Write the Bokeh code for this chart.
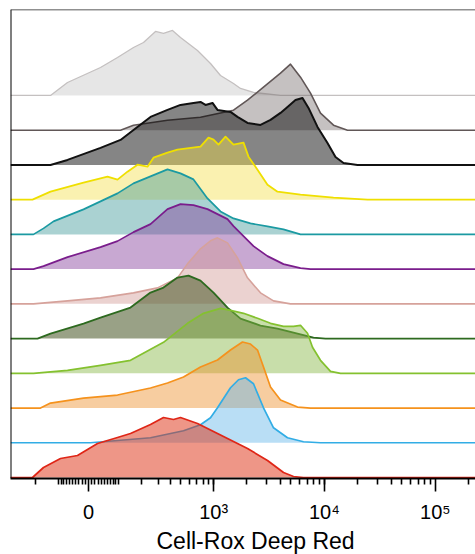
import numpy as np
from bokeh.plotting import figure
from bokeh.models import Range1d, FixedTicker, CustomJSTickFormatter, Span, Title
from bokeh.embed import file_html
from bokeh.resources import INLINE

# ---------------- data (x in display channels of the biexponential axis, y = normalised count) -------------
light_gray_x = [0, 40, 57, 90, 107, 123, 133, 145, 153, 162, 170, 187, 200, 210, 223, 230, 243, 270, 465]
light_gray_h = [0, 0, 13, 28, 38, 48, 53, 64, 62, 65, 58, 45, 32, 20, 12, 7, 3, 0, 0]

gray_x = [0, 110, 123, 157, 190, 223, 237, 253, 270, 280, 290, 300, 310, 323, 337, 465]
gray_h = [0, 0, 5, 10, 13, 20, 30, 43, 57, 66, 53, 37, 17, 5, 0, 0]

dark_x = [0, 40, 57, 90, 110, 123, 140, 157, 170, 183, 190, 195, 202, 207, 220, 227, 237, 250, 260, 270,
          277, 285, 292, 298, 307, 317, 325, 333, 347, 465]
dark_h = [0, 0, 5, 17, 25, 35, 48, 55, 60, 62, 63, 60, 62, 55, 53, 48, 42, 40, 45, 52,
          58, 65, 67, 57, 38, 22, 8, 2, 0, 0]

yellow_x = [0, 22, 40, 73, 97, 107, 117, 127, 137, 143, 157, 167, 190, 198, 203, 208, 215, 223, 233, 238,
            247, 257, 267, 290, 323, 357, 465]
yellow_h = [0, 0, 8, 17, 23, 20, 28, 35, 33, 42, 47, 50, 53, 62, 60, 55, 63, 55, 57, 43,
            30, 15, 8, 5, 2, 0, 0]

teal_x = [0, 23, 33, 43, 73, 90, 107, 123, 140, 157, 170, 183, 197, 210, 223, 240, 257, 273, 290, 465]
teal_h = [0, 0, 6, 13, 25, 33, 41, 51, 58, 65, 61, 55, 36, 23, 16, 11, 8, 5, 0, 0]

purple_x = [0, 23, 33, 57, 90, 107, 123, 140, 157, 170, 183, 197, 217, 223, 243, 257, 273, 290, 300, 465]
purple_h = [0, 0, 3, 12, 22, 28, 37, 45, 60, 65, 64, 60, 50, 43, 23, 13, 5, 1, 0, 0]

pink_x = [0, 23, 57, 90, 123, 147, 167, 177, 190, 200, 207, 217, 227, 237, 250, 263, 280, 465]
pink_h = [0, 0, 3, 6, 11, 16, 26, 40, 55, 63, 66, 61, 46, 26, 11, 3, 0, 0]

dkgreen_x = [0, 27, 40, 73, 90, 120, 140, 153, 167, 178, 190, 203, 217, 230, 250, 267, 283, 303, 315, 465]
dkgreen_h = [0, 0, 5, 15, 21, 31, 46, 51, 61, 63, 58, 46, 31, 20, 13, 10, 6, 1, 0, 0]

ygreen_x = [0, 23, 57, 90, 120, 153, 177, 193, 210, 220, 233, 247, 260, 273, 283, 290, 297, 302, 310, 320, 330, 465]
ygreen_h = [0, 0, 3, 8, 13, 31, 50, 60, 65, 63, 60, 55, 50, 47, 47, 48, 40, 26, 13, 2, 0, 0]

orange_x = [0, 30, 40, 73, 107, 140, 157, 173, 190, 207, 220, 232, 240, 247, 253, 260, 270, 287, 300, 465]
orange_h = [0, 0, 5, 10, 13, 20, 25, 31, 41, 48, 58, 66, 64, 58, 41, 21, 8, 1, 0, 0]

blue_x = [0, 80, 140, 173, 190, 200, 207, 220, 228, 235, 243, 253, 263, 277, 293, 310, 465]
blue_h = [0, 0, 5, 12, 18, 25, 35, 55, 63, 65, 59, 35, 15, 5, 1, 0, 0]

red_x = [0, 22, 33, 50, 67, 87, 107, 120, 140, 153, 163, 170, 187, 207, 227, 237, 257, 273, 283, 293, 465]
red_h = [0, 0, 10, 19, 22, 34, 40, 44, 53, 60, 58, 60, 54, 44, 34, 29, 17, 5, 1, 0, 0]

# order: top row first (drawn first), bottom row last
series = [
    (light_gray_x, light_gray_h, "#c4c0c0", "#c8c8c8", 0.45, 1.3),
    (gray_x, gray_h, "#615757", "#6e6464", 0.40, 1.6),
    (dark_x, dark_h, "#111111", "#000000", 0.48, 2.0),
    (yellow_x, yellow_h, "#efdf00", "#f4de43", 0.42, 1.8),
    (teal_x, teal_h, "#1b9aa2", "#439b9b", 0.45, 1.7),
    (purple_x, purple_h, "#7a1d8c", "#853e9b", 0.45, 1.7),
    (pink_x, pink_h, "#d6a29b", "#d39b97", 0.45, 1.6),
    (dkgreen_x, dkgreen_h, "#2d6a1f", "#505d2f", 0.58, 1.8),
    (ygreen_x, ygreen_h, "#84c12f", "#85b643", 0.45, 1.7),
    (orange_x, orange_h, "#f5921d", "#ee902c", 0.45, 1.7),
    (blue_x, blue_h, "#32ade5", "#64b6e9", 0.45, 1.7),
    (red_x, red_h, "#df2617", "#dd2d0f", 0.50, 1.7),
]
ROW_OFFSET = 34.73

# axis: biexponential display -> channel
major_vals = [0, 1e3, 1e4, 1e5]
major_labels = ["0", "10\u00b3", "10\u2074", "10\u2075"]
minor_vals = ([-200, -100] + [-v for v in range(10, 100, 10)] + list(range(10, 100, 10)) +
              list(range(100, 1000, 100)) + list(range(1000, 10000, 1000)) +
              list(range(10000, 100000, 10000)) + [200000])
AX_ZERO, AX_SCALE, AX_WIDTH = 78.0, 48.2, 150.0
X_END = 465


def to_channel(v):
    return AX_ZERO + AX_SCALE * np.arcsinh(np.asarray(v, dtype=float) / AX_WIDTH)


major_pos = [round(float(t), 4) for t in to_channel(major_vals)]
minor_pos = [round(float(t), 4) for t in to_channel(minor_vals) if 0 <= t <= X_END]

p = figure(width=475, height=554, output_backend="svg", toolbar_location=None,
           x_range=Range1d(0, X_END), y_range=Range1d(-1, 468),
           min_border_left=10, min_border_right=0, min_border_top=9, min_border_bottom=76)
p.yaxis.visible = False
p.grid.visible = False
p.outline_line_color = None
p.background_fill_color = "white"

n = len(series)
for i, (xs, hs, lc, fc, fa, lw) in enumerate(series):
    k = n - 1 - i
    base = k * ROW_OFFSET
    y2 = [base + h for h in hs]
    p.varea(x=xs, y1=[base] * len(xs), y2=y2, fill_color=fc, fill_alpha=fa)
    p.line(x=xs, y=y2, line_color=lc, line_width=lw, line_join="round")

ax = p.xaxis[0]
ax.ticker = FixedTicker(ticks=major_pos, minor_ticks=minor_pos)
ax.formatter = CustomJSTickFormatter(args=dict(pos=major_pos, labels=major_labels), code="""
for (let i = 0; i < pos.length; i++) { if (Math.abs(tick - pos[i]) < 0.01) return labels[i]; }
return "";
""")
ax.axis_line_color = "black"
ax.axis_line_width = 2
ax.major_tick_line_color = "black"
ax.major_tick_line_width = 1.6
ax.major_tick_out = 13
ax.major_tick_in = 0
ax.minor_tick_line_color = "black"
ax.minor_tick_line_width = 1.6
ax.minor_tick_out = 6
ax.minor_tick_in = 0
ax.major_label_text_font = "Liberation Sans"
ax.major_label_text_font_size = "20px"
ax.major_label_text_color = "black"
ax.major_label_standoff = 9

p.add_layout(Span(location=0, dimension="height", line_color="black", line_width=2))
p.add_layout(Span(location=468, dimension="width", line_color="#222222", line_width=1.5))

p.add_layout(Title(text="Cell-Rox Deep Red", align="left", offset=146, standoff=0,
                   text_font="Liberation Sans", text_font_size="23px", text_font_style="normal",
                   text_color="black"), "below")

open("out.html", "w").write(file_html(p, INLINE))
